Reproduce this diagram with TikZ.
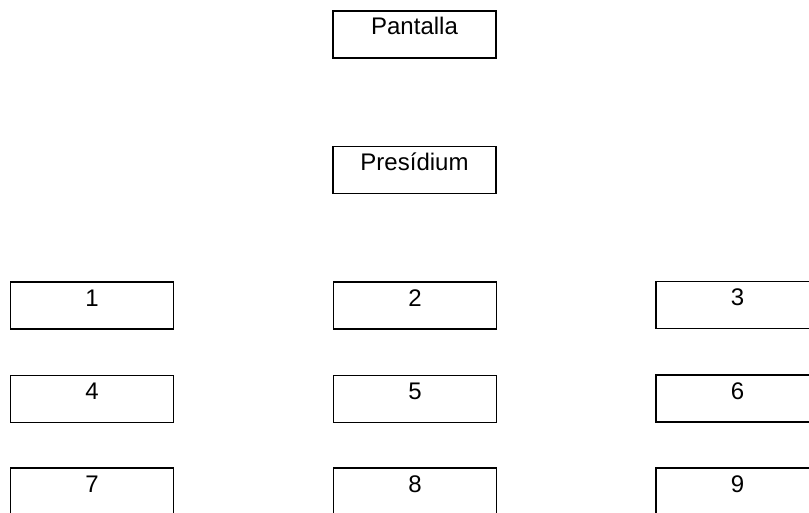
\documentclass[tikz,border=0pt]{standalone}
\usepackage{fontspec}
\setmainfont{Liberation Sans}
\usepackage{tikz}

\tikzset{
	seat/.style={draw, line width=1.5pt, rectangle, inner xsep=0pt, inner ysep=0pt,
		minimum width=163pt, text height=24pt, text depth=23pt, font=\fontsize{24}{24}\selectfont},
}

\begin{document}
\begin{tikzpicture}[x=1pt, y=-1pt]
	\useasboundingbox (0,0) rectangle (809,513);
	%\draw[help lines] (0,0) grid[step=50] (809,513);
	\node[seat, line width=2pt] (pantalla) at (414.5,34.5) {Pantalla};
	\node[seat] (presidium) at (414.5,170) {Presídium};
	\node[seat] (m1) at (92,305.5) {1};
	\node[seat] (m2) at (415,305.5) {2};
	\node[seat] (m3) at (737.5,305) {3};
	\node[seat] (m4) at (92,399) {4};
	\node[seat] (m5) at (415,399) {5};
	\node[seat] (m6) at (737.5,398.5) {6};
	\node[seat] (m7) at (92,491.5) {7};
	\node[seat] (m8) at (415,491.5) {8};
	\node[seat] (m9) at (737.5,491.5) {9};
\end{tikzpicture}
\end{document}
